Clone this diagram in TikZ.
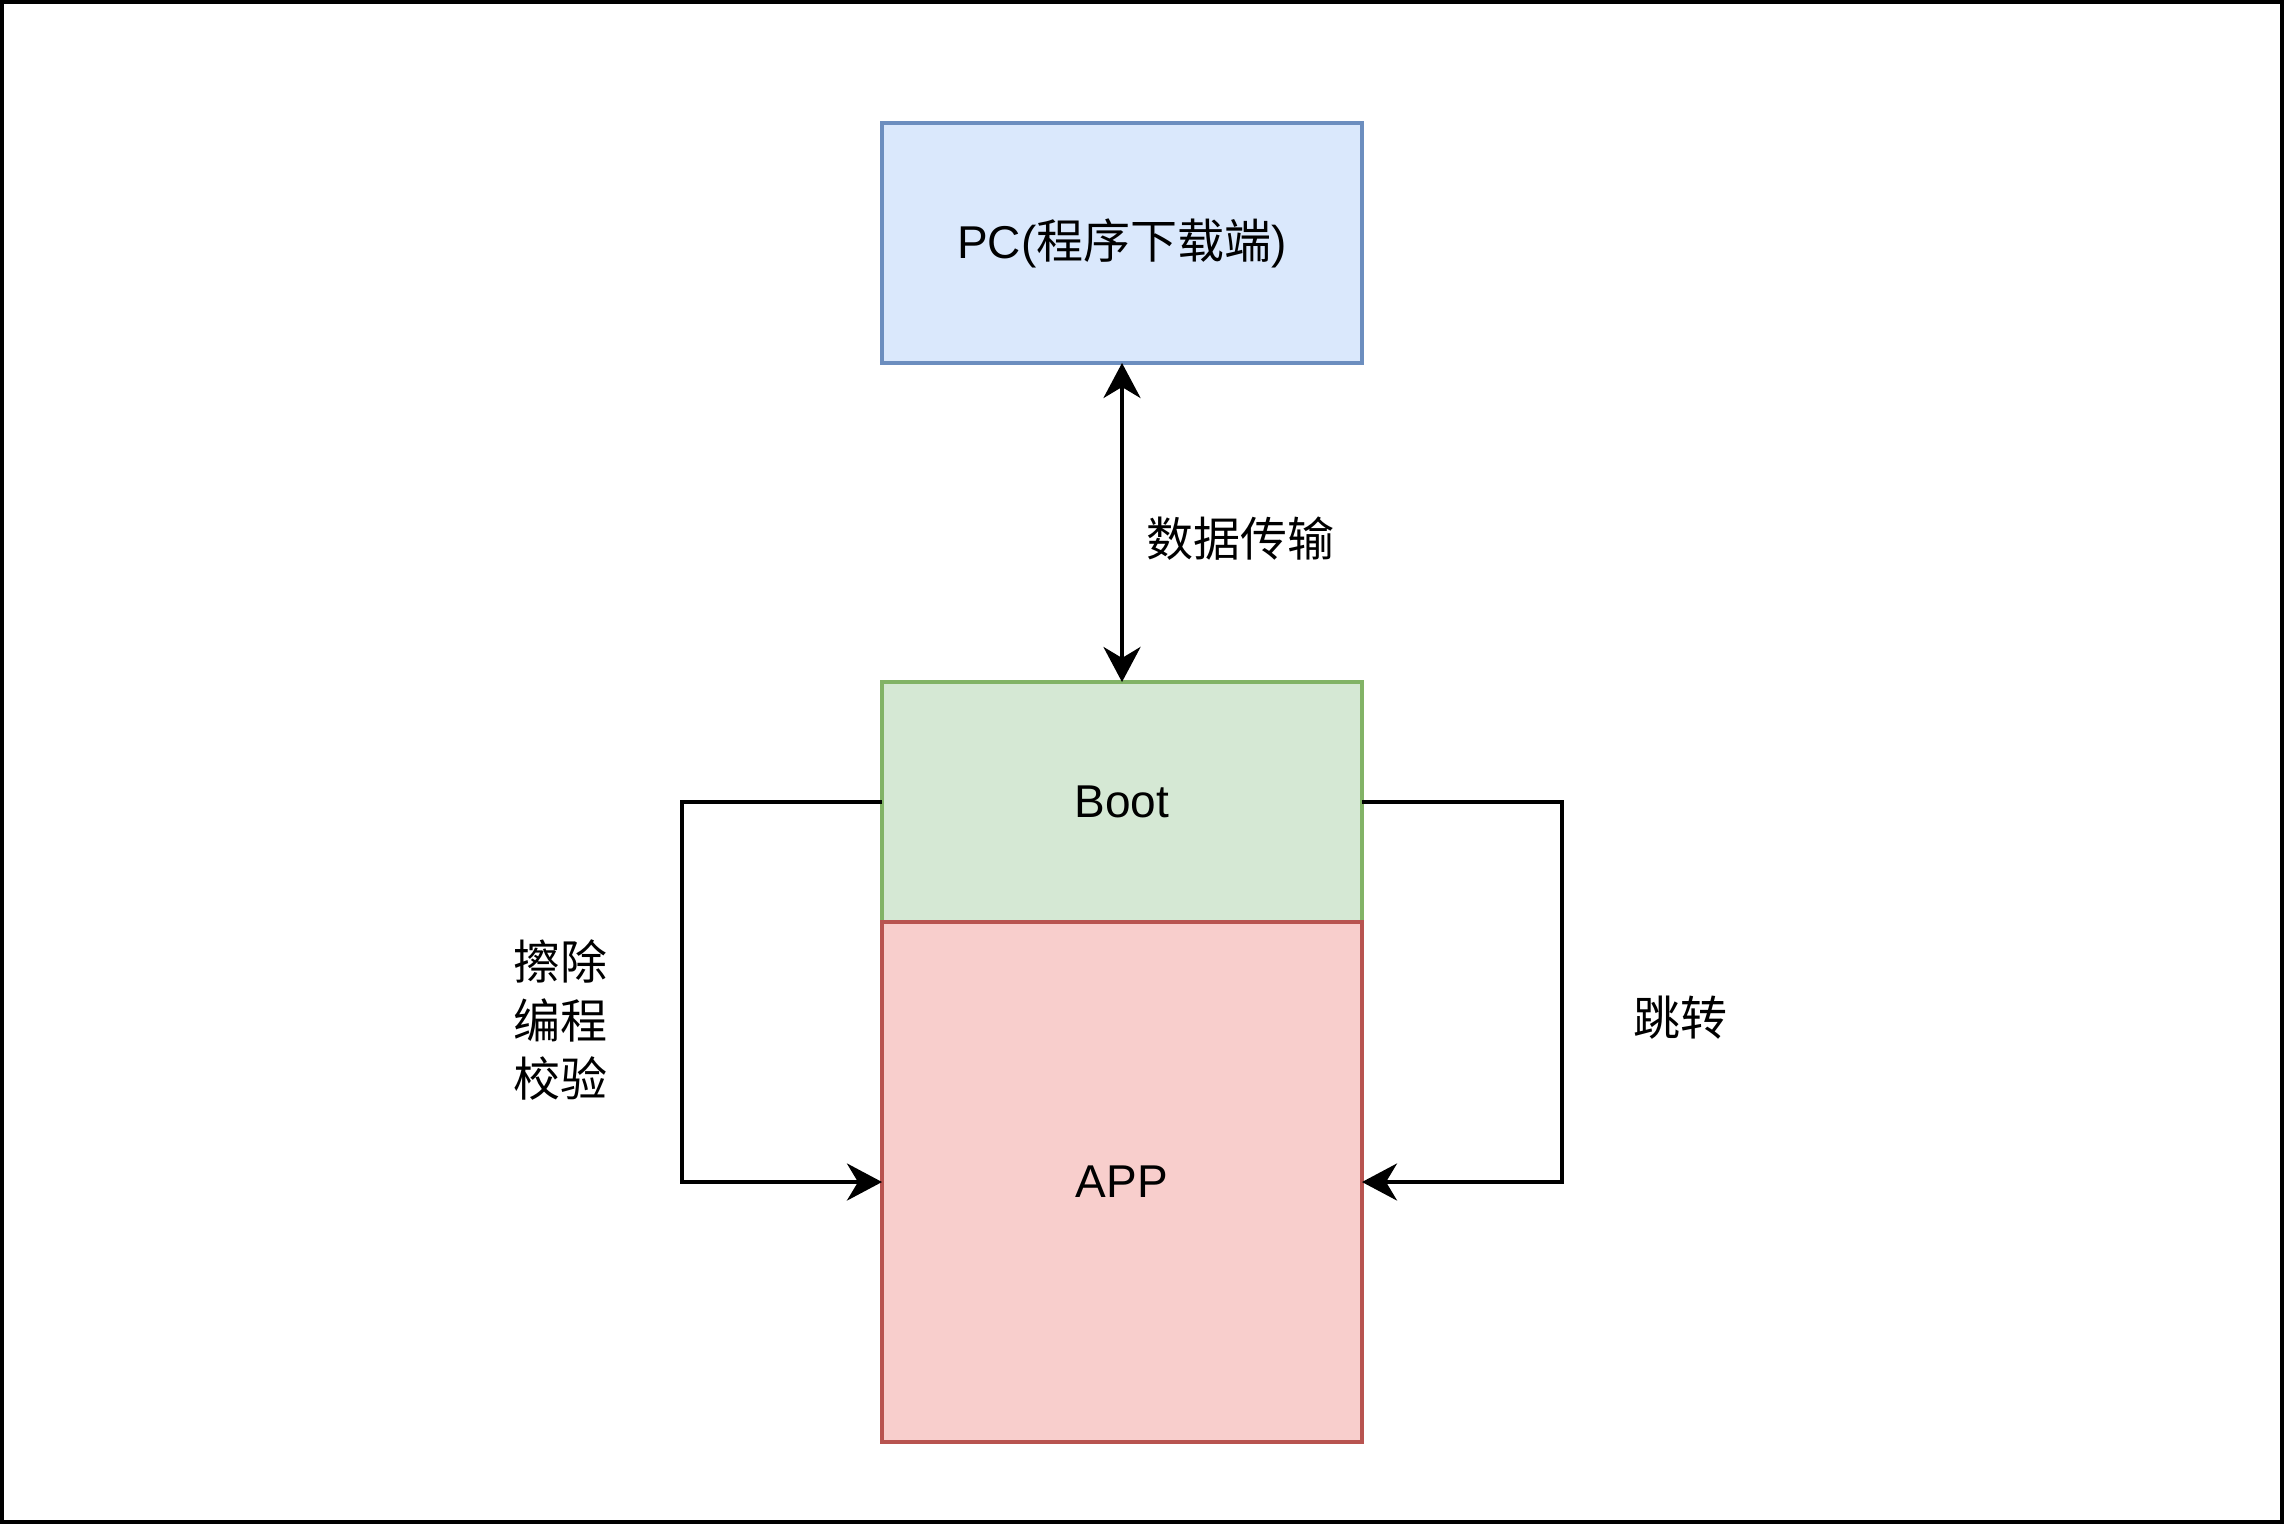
\documentclass[tikz,border=0pt]{standalone}
\usepackage{fontspec}
\setmainfont{Liberation Sans}
\newfontfamily\cjk{Noto Sans CJK SC}
\usetikzlibrary{arrows.meta}
\definecolor{pcfill}{HTML}{DAE8FC}
\definecolor{pcline}{HTML}{6C8EBF}
\definecolor{bootfill}{HTML}{D5E8D4}
\definecolor{bootline}{HTML}{82B366}
\definecolor{appfill}{HTML}{F8CECC}
\definecolor{appline}{HTML}{B85450}
\tikzset{
  box/.style={rectangle, line width=4pt, outer sep=0pt, inner sep=0pt,
    font=\fontsize{46pt}{58pt}\selectfont},
  pcbox/.style={box, draw=pcline, fill=pcfill},
  bootbox/.style={box, draw=bootline, fill=bootfill},
  appbox/.style={box, draw=appline, fill=appfill},
  lbl/.style={font=\fontsize{47pt}{58.5pt}\selectfont\cjk, align=center, inner sep=0pt},
  conn/.style={line width=4pt, draw=black}
}
\begin{document}
\begin{tikzpicture}[x=1pt, y=-1pt]
\useasboundingbox (0,0) rectangle (2284,1524);
\fill[white] (0,0) rectangle (2284,1524);
\draw[line width=4pt] (2,2) rectangle (2282,1522);

\node[pcbox, minimum width=480pt, minimum height=240pt] (pc) at (1122,243) {PC({\cjk\fontsize{47pt}{58pt}\selectfont 程序下载端})};
\node[bootbox, minimum width=480pt, minimum height=240pt] (boot) at (1122,802) {Boot};
\node[appbox, minimum width=480pt, minimum height=520pt] (app) at (1122,1182) {APP};

\coordinate (lbend) at (682,802);
\coordinate (rbend) at (1562,802);

\draw[conn, {Stealth[length=35pt, width=37pt, inset=11pt]}-{Stealth[length=35pt, width=37pt, inset=11pt]}] (pc.south) -- (boot.north);
\draw[conn, -{Stealth[length=35pt, width=37pt, inset=11pt]}] (boot.west) -- (lbend) |- (app.west);
\draw[conn, -{Stealth[length=35pt, width=37pt, inset=11pt]}] (boot.east) -- (rbend) |- (app.east);

\node[lbl, anchor=west] (ldata) at (1146,539) {数据传输};
\node[lbl] (lerase) at (560,1020) {擦除\\编程\\校验};
\node[lbl] (ljump) at (1680,1018) {跳转};
\end{tikzpicture}
\end{document}
